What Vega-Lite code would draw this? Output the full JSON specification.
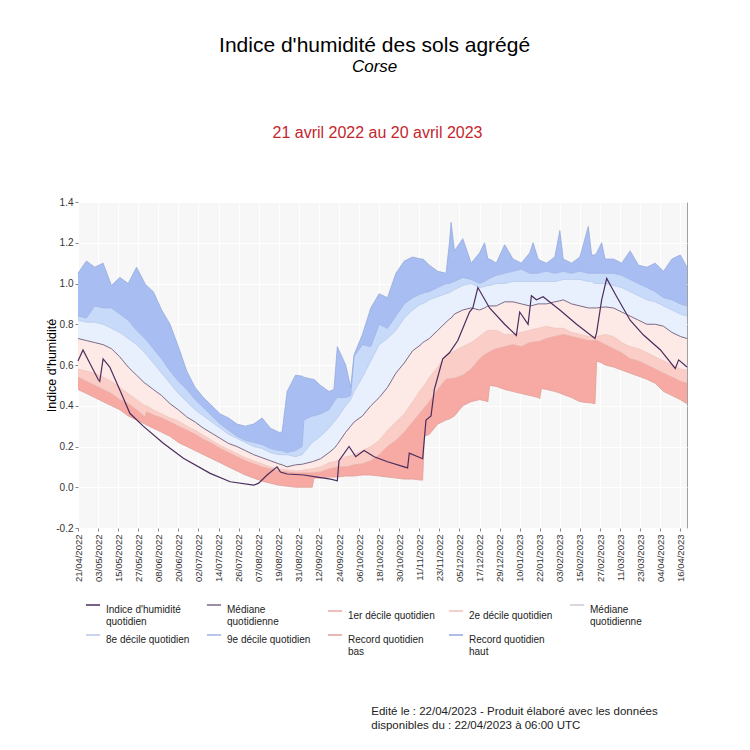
{
  "$schema": "https://vega.github.io/schema/vega-lite/v6.json",
  "background": "white",
  "padding": {"left": 45, "top": 34, "right": 10, "bottom": 10},
  "autosize": {"type": "pad"},
  "config": {
    "font": "Liberation Sans",
    "view": {"stroke": null},
    "title": {"font": "Liberation Sans", "fontWeight": "normal", "color": "#000000"}
  },
  "datasets": {
    "bands": [
      {"date": "2022-04-21", "rb": 0.48, "d1": 0.54, "d2": 0.58, "med": 0.73, "d8": 0.82, "d9": 0.84, "rh": 1.05},
      {"date": "2022-04-26", "rb": 0.46, "d1": 0.52, "d2": 0.57, "med": 0.72, "d8": 0.81, "d9": 0.83, "rh": 1.11},
      {"date": "2022-05-01", "rb": 0.44, "d1": 0.50, "d2": 0.56, "med": 0.71, "d8": 0.81, "d9": 0.89, "rh": 1.08},
      {"date": "2022-05-06", "rb": 0.42, "d1": 0.48, "d2": 0.54, "med": 0.70, "d8": 0.80, "d9": 0.88, "rh": 1.10},
      {"date": "2022-05-11", "rb": 0.40, "d1": 0.46, "d2": 0.52, "med": 0.68, "d8": 0.78, "d9": 0.88, "rh": 0.99},
      {"date": "2022-05-16", "rb": 0.38, "d1": 0.43, "d2": 0.49, "med": 0.64, "d8": 0.76, "d9": 0.85, "rh": 1.03},
      {"date": "2022-05-21", "rb": 0.35, "d1": 0.41, "d2": 0.46, "med": 0.59, "d8": 0.73, "d9": 0.82, "rh": 1.00},
      {"date": "2022-05-26", "rb": 0.33, "d1": 0.38, "d2": 0.43, "med": 0.55, "d8": 0.70, "d9": 0.77, "rh": 1.08},
      {"date": "2022-05-31", "rb": 0.31, "d1": 0.345, "d2": 0.40, "med": 0.51, "d8": 0.66, "d9": 0.73, "rh": 1.00},
      {"date": "2022-06-01", "rb": 0.305, "d1": 0.37, "d2": 0.40, "med": 0.505, "d8": 0.65, "d9": 0.72, "rh": 0.99},
      {"date": "2022-06-05", "rb": 0.29, "d1": 0.355, "d2": 0.38, "med": 0.48, "d8": 0.61, "d9": 0.68, "rh": 0.96},
      {"date": "2022-06-10", "rb": 0.27, "d1": 0.34, "d2": 0.36, "med": 0.45, "d8": 0.56, "d9": 0.63, "rh": 0.87},
      {"date": "2022-06-15", "rb": 0.25, "d1": 0.32, "d2": 0.34, "med": 0.41, "d8": 0.51, "d9": 0.57, "rh": 0.80},
      {"date": "2022-06-20", "rb": 0.22, "d1": 0.30, "d2": 0.325, "med": 0.38, "d8": 0.46, "d9": 0.52, "rh": 0.69},
      {"date": "2022-06-25", "rb": 0.20, "d1": 0.28, "d2": 0.30, "med": 0.345, "d8": 0.42, "d9": 0.48, "rh": 0.57},
      {"date": "2022-06-30", "rb": 0.18, "d1": 0.26, "d2": 0.28, "med": 0.32, "d8": 0.38, "d9": 0.43, "rh": 0.49},
      {"date": "2022-07-05", "rb": 0.16, "d1": 0.235, "d2": 0.255, "med": 0.29, "d8": 0.35, "d9": 0.39, "rh": 0.44},
      {"date": "2022-07-10", "rb": 0.14, "d1": 0.215, "d2": 0.23, "med": 0.265, "d8": 0.32, "d9": 0.35, "rh": 0.40},
      {"date": "2022-07-15", "rb": 0.12, "d1": 0.19, "d2": 0.205, "med": 0.24, "d8": 0.29, "d9": 0.31, "rh": 0.36},
      {"date": "2022-07-20", "rb": 0.10, "d1": 0.17, "d2": 0.185, "med": 0.215, "d8": 0.26, "d9": 0.28, "rh": 0.34},
      {"date": "2022-07-25", "rb": 0.08, "d1": 0.15, "d2": 0.165, "med": 0.20, "d8": 0.24, "d9": 0.25, "rh": 0.31},
      {"date": "2022-07-30", "rb": 0.06, "d1": 0.13, "d2": 0.145, "med": 0.18, "d8": 0.22, "d9": 0.23, "rh": 0.30},
      {"date": "2022-08-04", "rb": 0.045, "d1": 0.115, "d2": 0.13, "med": 0.16, "d8": 0.20, "d9": 0.22, "rh": 0.31},
      {"date": "2022-08-09", "rb": 0.03, "d1": 0.10, "d2": 0.115, "med": 0.145, "d8": 0.19, "d9": 0.21, "rh": 0.34},
      {"date": "2022-08-14", "rb": 0.02, "d1": 0.09, "d2": 0.10, "med": 0.13, "d8": 0.17, "d9": 0.19, "rh": 0.29},
      {"date": "2022-08-19", "rb": 0.01, "d1": 0.08, "d2": 0.09, "med": 0.115, "d8": 0.16, "d9": 0.18, "rh": 0.27},
      {"date": "2022-08-21", "rb": 0.008, "d1": 0.078, "d2": 0.088, "med": 0.11, "d8": 0.16, "d9": 0.18, "rh": 0.27},
      {"date": "2022-08-24", "rb": 0.005, "d1": 0.075, "d2": 0.085, "med": 0.10, "d8": 0.16, "d9": 0.17, "rh": 0.47},
      {"date": "2022-08-29", "rb": 0.0, "d1": 0.07, "d2": 0.08, "med": 0.11, "d8": 0.15, "d9": 0.18, "rh": 0.55},
      {"date": "2022-09-02", "rb": 0.0, "d1": 0.07, "d2": 0.082, "med": 0.113, "d8": 0.16, "d9": 0.20, "rh": 0.545},
      {"date": "2022-09-03", "rb": 0.0, "d1": 0.07, "d2": 0.085, "med": 0.115, "d8": 0.17, "d9": 0.33, "rh": 0.54},
      {"date": "2022-09-08", "rb": 0.0, "d1": 0.07, "d2": 0.09, "med": 0.125, "d8": 0.22, "d9": 0.35, "rh": 0.53},
      {"date": "2022-09-09", "rb": 0.045, "d1": 0.071, "d2": 0.092, "med": 0.128, "d8": 0.225, "d9": 0.35, "rh": 0.53},
      {"date": "2022-09-13", "rb": 0.045, "d1": 0.075, "d2": 0.10, "med": 0.14, "d8": 0.25, "d9": 0.36, "rh": 0.50},
      {"date": "2022-09-18", "rb": 0.05, "d1": 0.09, "d2": 0.12, "med": 0.17, "d8": 0.29, "d9": 0.38, "rh": 0.47},
      {"date": "2022-09-21", "rb": 0.05, "d1": 0.095, "d2": 0.125, "med": 0.19, "d8": 0.32, "d9": 0.42, "rh": 0.48},
      {"date": "2022-09-23", "rb": 0.05, "d1": 0.10, "d2": 0.13, "med": 0.21, "d8": 0.34, "d9": 0.44, "rh": 0.69},
      {"date": "2022-09-28", "rb": 0.055, "d1": 0.10, "d2": 0.15, "med": 0.27, "d8": 0.40, "d9": 0.44, "rh": 0.60},
      {"date": "2022-10-01", "rb": 0.055, "d1": 0.105, "d2": 0.155, "med": 0.30, "d8": 0.43, "d9": 0.45, "rh": 0.49},
      {"date": "2022-10-03", "rb": 0.055, "d1": 0.11, "d2": 0.16, "med": 0.32, "d8": 0.47, "d9": 0.64, "rh": 0.65},
      {"date": "2022-10-08", "rb": 0.06, "d1": 0.115, "d2": 0.18, "med": 0.35, "d8": 0.54, "d9": 0.70, "rh": 0.75},
      {"date": "2022-10-13", "rb": 0.06, "d1": 0.13, "d2": 0.20, "med": 0.40, "d8": 0.62, "d9": 0.69, "rh": 0.88},
      {"date": "2022-10-18", "rb": 0.055, "d1": 0.16, "d2": 0.23, "med": 0.44, "d8": 0.70, "d9": 0.80, "rh": 0.95},
      {"date": "2022-10-23", "rb": 0.05, "d1": 0.20, "d2": 0.28, "med": 0.49, "d8": 0.73, "d9": 0.78, "rh": 0.93},
      {"date": "2022-10-28", "rb": 0.045, "d1": 0.23, "d2": 0.32, "med": 0.56, "d8": 0.77, "d9": 0.84, "rh": 1.05},
      {"date": "2022-11-02", "rb": 0.04, "d1": 0.27, "d2": 0.36, "med": 0.61, "d8": 0.83, "d9": 0.90, "rh": 1.11},
      {"date": "2022-11-07", "rb": 0.04, "d1": 0.32, "d2": 0.42, "med": 0.67, "d8": 0.87, "d9": 0.93, "rh": 1.13},
      {"date": "2022-11-12", "rb": 0.035, "d1": 0.37, "d2": 0.48, "med": 0.70, "d8": 0.90, "d9": 0.95, "rh": 1.12},
      {"date": "2022-11-13", "rb": 0.035, "d1": 0.38, "d2": 0.49, "med": 0.71, "d8": 0.90, "d9": 0.95, "rh": 1.12},
      {"date": "2022-11-14", "rb": 0.25, "d1": 0.39, "d2": 0.50, "med": 0.715, "d8": 0.905, "d9": 0.955, "rh": 1.115},
      {"date": "2022-11-17", "rb": 0.26, "d1": 0.42, "d2": 0.54, "med": 0.73, "d8": 0.92, "d9": 0.96, "rh": 1.09},
      {"date": "2022-11-22", "rb": 0.31, "d1": 0.48, "d2": 0.59, "med": 0.77, "d8": 0.935, "d9": 0.98, "rh": 1.06},
      {"date": "2022-11-27", "rb": 0.33, "d1": 0.53, "d2": 0.65, "med": 0.81, "d8": 0.95, "d9": 1.00, "rh": 1.05},
      {"date": "2022-11-29", "rb": 0.335, "d1": 0.532, "d2": 0.655, "med": 0.825, "d8": 0.955, "d9": 1.00, "rh": 1.20},
      {"date": "2022-11-30", "rb": 0.34, "d1": 0.533, "d2": 0.66, "med": 0.83, "d8": 0.96, "d9": 1.005, "rh": 1.30},
      {"date": "2022-12-02", "rb": 0.35, "d1": 0.535, "d2": 0.67, "med": 0.85, "d8": 0.97, "d9": 1.01, "rh": 1.16},
      {"date": "2022-12-07", "rb": 0.40, "d1": 0.55, "d2": 0.69, "med": 0.87, "d8": 0.99, "d9": 1.03, "rh": 1.22},
      {"date": "2022-12-12", "rb": 0.42, "d1": 0.58, "d2": 0.71, "med": 0.88, "d8": 1.00, "d9": 1.02, "rh": 1.10},
      {"date": "2022-12-17", "rb": 0.43, "d1": 0.63, "d2": 0.74, "med": 0.87, "d8": 0.98, "d9": 1.00, "rh": 1.15},
      {"date": "2022-12-20", "rb": 0.425, "d1": 0.65, "d2": 0.76, "med": 0.88, "d8": 0.985, "d9": 1.01, "rh": 1.20},
      {"date": "2022-12-22", "rb": 0.42, "d1": 0.66, "d2": 0.77, "med": 0.89, "d8": 0.99, "d9": 1.02, "rh": 1.12},
      {"date": "2022-12-23", "rb": 0.50, "d1": 0.665, "d2": 0.77, "med": 0.89, "d8": 0.99, "d9": 1.025, "rh": 1.12},
      {"date": "2022-12-27", "rb": 0.495, "d1": 0.68, "d2": 0.77, "med": 0.89, "d8": 1.00, "d9": 1.04, "rh": 1.10},
      {"date": "2023-01-01", "rb": 0.48, "d1": 0.69, "d2": 0.75, "med": 0.91, "d8": 1.00, "d9": 1.05, "rh": 1.19},
      {"date": "2023-01-06", "rb": 0.47, "d1": 0.70, "d2": 0.75, "med": 0.91, "d8": 1.01, "d9": 1.06, "rh": 1.12},
      {"date": "2023-01-11", "rb": 0.46, "d1": 0.69, "d2": 0.76, "med": 0.90, "d8": 1.01, "d9": 1.07, "rh": 1.10},
      {"date": "2023-01-16", "rb": 0.45, "d1": 0.71, "d2": 0.77, "med": 0.89, "d8": 1.01, "d9": 1.05, "rh": 1.15},
      {"date": "2023-01-18", "rb": 0.447, "d1": 0.712, "d2": 0.775, "med": 0.893, "d8": 1.01, "d9": 1.05, "rh": 1.20},
      {"date": "2023-01-21", "rb": 0.44, "d1": 0.715, "d2": 0.78, "med": 0.90, "d8": 1.01, "d9": 1.05, "rh": 1.12},
      {"date": "2023-01-22", "rb": 0.435, "d1": 0.717, "d2": 0.782, "med": 0.90, "d8": 1.01, "d9": 1.053, "rh": 1.115},
      {"date": "2023-01-23", "rb": 0.485, "d1": 0.72, "d2": 0.784, "med": 0.90, "d8": 1.01, "d9": 1.055, "rh": 1.11},
      {"date": "2023-01-26", "rb": 0.48, "d1": 0.73, "d2": 0.79, "med": 0.90, "d8": 1.01, "d9": 1.06, "rh": 1.10},
      {"date": "2023-01-31", "rb": 0.47, "d1": 0.74, "d2": 0.78, "med": 0.91, "d8": 1.01, "d9": 1.05, "rh": 1.13},
      {"date": "2023-02-03", "rb": 0.462, "d1": 0.745, "d2": 0.78, "med": 0.915, "d8": 1.015, "d9": 1.055, "rh": 1.26},
      {"date": "2023-02-05", "rb": 0.455, "d1": 0.75, "d2": 0.78, "med": 0.92, "d8": 1.02, "d9": 1.06, "rh": 1.12},
      {"date": "2023-02-10", "rb": 0.44, "d1": 0.74, "d2": 0.76, "med": 0.90, "d8": 1.02, "d9": 1.05, "rh": 1.10},
      {"date": "2023-02-15", "rb": 0.42, "d1": 0.73, "d2": 0.75, "med": 0.89, "d8": 1.02, "d9": 1.06, "rh": 1.13},
      {"date": "2023-02-20", "rb": 0.415, "d1": 0.72, "d2": 0.74, "med": 0.88, "d8": 1.01, "d9": 1.05, "rh": 1.28},
      {"date": "2023-02-22", "rb": 0.413, "d1": 0.72, "d2": 0.74, "med": 0.88, "d8": 1.01, "d9": 1.05, "rh": 1.14},
      {"date": "2023-02-24", "rb": 0.41, "d1": 0.72, "d2": 0.74, "med": 0.88, "d8": 1.00, "d9": 1.05, "rh": 1.14},
      {"date": "2023-02-25", "rb": 0.62, "d1": 0.72, "d2": 0.74, "med": 0.88, "d8": 1.00, "d9": 1.05, "rh": 1.15},
      {"date": "2023-02-28", "rb": 0.61, "d1": 0.71, "d2": 0.745, "med": 0.883, "d8": 1.00, "d9": 1.05, "rh": 1.20},
      {"date": "2023-03-02", "rb": 0.60, "d1": 0.70, "d2": 0.75, "med": 0.885, "d8": 1.00, "d9": 1.05, "rh": 1.12},
      {"date": "2023-03-07", "rb": 0.59, "d1": 0.68, "d2": 0.74, "med": 0.88, "d8": 0.99, "d9": 1.05, "rh": 1.12},
      {"date": "2023-03-12", "rb": 0.575, "d1": 0.66, "d2": 0.71, "med": 0.86, "d8": 0.98, "d9": 1.04, "rh": 1.10},
      {"date": "2023-03-17", "rb": 0.56, "d1": 0.63, "d2": 0.69, "med": 0.84, "d8": 0.96, "d9": 1.02, "rh": 1.16},
      {"date": "2023-03-22", "rb": 0.545, "d1": 0.62, "d2": 0.68, "med": 0.82, "d8": 0.94, "d9": 1.00, "rh": 1.09},
      {"date": "2023-03-27", "rb": 0.53, "d1": 0.60, "d2": 0.66, "med": 0.80, "d8": 0.92, "d9": 0.98, "rh": 1.08},
      {"date": "2023-04-01", "rb": 0.51, "d1": 0.58, "d2": 0.64, "med": 0.80, "d8": 0.91, "d9": 0.96, "rh": 1.10},
      {"date": "2023-04-06", "rb": 0.47, "d1": 0.56, "d2": 0.62, "med": 0.79, "d8": 0.89, "d9": 0.93, "rh": 1.06},
      {"date": "2023-04-11", "rb": 0.45, "d1": 0.54, "d2": 0.60, "med": 0.76, "d8": 0.87, "d9": 0.92, "rh": 1.12},
      {"date": "2023-04-16", "rb": 0.43, "d1": 0.52, "d2": 0.58, "med": 0.74, "d8": 0.85, "d9": 0.90, "rh": 1.14},
      {"date": "2023-04-20", "rb": 0.41, "d1": 0.51, "d2": 0.575, "med": 0.73, "d8": 0.84, "d9": 0.89, "rh": 1.08}
    ],
    "indice": [
      {"date": "2022-04-21", "v": 0.62},
      {"date": "2022-04-24", "v": 0.674},
      {"date": "2022-04-28", "v": 0.61},
      {"date": "2022-05-03", "v": 0.53},
      {"date": "2022-05-04", "v": 0.52},
      {"date": "2022-05-06", "v": 0.63},
      {"date": "2022-05-10", "v": 0.59},
      {"date": "2022-05-16", "v": 0.477},
      {"date": "2022-05-22", "v": 0.363},
      {"date": "2022-05-30", "v": 0.30},
      {"date": "2022-06-11", "v": 0.216},
      {"date": "2022-06-23", "v": 0.142},
      {"date": "2022-07-09", "v": 0.068},
      {"date": "2022-07-21", "v": 0.027},
      {"date": "2022-08-04", "v": 0.01},
      {"date": "2022-08-07", "v": 0.02},
      {"date": "2022-08-12", "v": 0.06},
      {"date": "2022-08-18", "v": 0.10},
      {"date": "2022-08-20", "v": 0.075},
      {"date": "2022-08-24", "v": 0.065},
      {"date": "2022-09-03", "v": 0.06},
      {"date": "2022-09-11", "v": 0.05},
      {"date": "2022-09-19", "v": 0.04},
      {"date": "2022-09-23", "v": 0.032},
      {"date": "2022-09-24", "v": 0.13},
      {"date": "2022-09-30", "v": 0.20},
      {"date": "2022-10-04", "v": 0.15},
      {"date": "2022-10-09", "v": 0.18},
      {"date": "2022-10-15", "v": 0.15},
      {"date": "2022-10-23", "v": 0.125},
      {"date": "2022-11-04", "v": 0.095},
      {"date": "2022-11-05", "v": 0.167},
      {"date": "2022-11-13", "v": 0.14},
      {"date": "2022-11-15", "v": 0.33},
      {"date": "2022-11-18", "v": 0.35},
      {"date": "2022-11-20", "v": 0.48},
      {"date": "2022-11-22", "v": 0.54},
      {"date": "2022-11-25", "v": 0.63},
      {"date": "2022-11-29", "v": 0.66},
      {"date": "2022-12-04", "v": 0.72},
      {"date": "2022-12-08", "v": 0.80},
      {"date": "2022-12-11", "v": 0.86},
      {"date": "2022-12-13", "v": 0.88},
      {"date": "2022-12-16", "v": 0.98},
      {"date": "2022-12-23", "v": 0.88},
      {"date": "2023-01-01", "v": 0.80},
      {"date": "2023-01-08", "v": 0.745},
      {"date": "2023-01-10", "v": 0.86},
      {"date": "2023-01-15", "v": 0.80},
      {"date": "2023-01-17", "v": 0.94},
      {"date": "2023-01-20", "v": 0.92},
      {"date": "2023-01-24", "v": 0.935},
      {"date": "2023-02-03", "v": 0.87},
      {"date": "2023-02-13", "v": 0.80},
      {"date": "2023-02-24", "v": 0.73},
      {"date": "2023-02-25", "v": 0.76},
      {"date": "2023-02-28", "v": 0.92},
      {"date": "2023-03-03", "v": 1.025},
      {"date": "2023-03-09", "v": 0.935},
      {"date": "2023-03-17", "v": 0.82},
      {"date": "2023-03-25", "v": 0.747},
      {"date": "2023-04-04", "v": 0.675},
      {"date": "2023-04-13", "v": 0.583},
      {"date": "2023-04-15", "v": 0.625},
      {"date": "2023-04-20", "v": 0.59}
    ]
  },
  "title": {
    "text": "Indice d'humidité des sols agrégé",
    "subtitle": "Corse",
    "fontSize": 21,
    "subtitleFontSize": 17,
    "subtitleFontStyle": "italic",
    "subtitleColor": "#000000",
    "subtitleFont": "Liberation Sans",
    "subtitlePadding": 3,
    "anchor": "middle",
    "offset": 50,
    "dx": 7
  },
  "vconcat": [
    {
      "title": {
        "text": ["Edité le : 22/04/2023 - Produit élaboré avec les données", "disponibles du : 22/04/2023 à 06:00 UTC"],
        "orient": "bottom",
        "anchor": "start",
        "fontSize": 11.5,
        "lineHeight": 14,
        "color": "#222222",
        "offset": 124,
        "dx": 326
      },
      "vconcat": [
        {
          "width": 609,
          "height": 326,
          "title": {
            "text": "21 avril 2022 au 20 avril 2023",
            "color": "#c4262e",
            "fontSize": 16,
            "offset": 56,
            "frame": "group",
            "anchor": "middle",
            "dx": -5
          },
          "view": {"fill": "#f7f7f7", "stroke": "#a0a0a0"},
          "encoding": {
            "x": {
              "field": "date",
              "type": "temporal",
              "scale": {
                "type": "utc",
                "domain": [
                  {"year": 2022, "month": 4, "date": 21, "utc": true},
                  {"year": 2023, "month": 4, "date": 20, "utc": true}
                ]
              },
              "axis": {
                "title": null,
                "format": "%d/%m/%Y",
                "values": [
                  {"year": 2022, "month": 4, "date": 21, "utc": true},
                  {"year": 2022, "month": 5, "date": 3, "utc": true},
                  {"year": 2022, "month": 5, "date": 15, "utc": true},
                  {"year": 2022, "month": 5, "date": 27, "utc": true},
                  {"year": 2022, "month": 6, "date": 8, "utc": true},
                  {"year": 2022, "month": 6, "date": 20, "utc": true},
                  {"year": 2022, "month": 7, "date": 2, "utc": true},
                  {"year": 2022, "month": 7, "date": 14, "utc": true},
                  {"year": 2022, "month": 7, "date": 26, "utc": true},
                  {"year": 2022, "month": 8, "date": 7, "utc": true},
                  {"year": 2022, "month": 8, "date": 19, "utc": true},
                  {"year": 2022, "month": 8, "date": 31, "utc": true},
                  {"year": 2022, "month": 9, "date": 12, "utc": true},
                  {"year": 2022, "month": 9, "date": 24, "utc": true},
                  {"year": 2022, "month": 10, "date": 6, "utc": true},
                  {"year": 2022, "month": 10, "date": 18, "utc": true},
                  {"year": 2022, "month": 10, "date": 30, "utc": true},
                  {"year": 2022, "month": 11, "date": 11, "utc": true},
                  {"year": 2022, "month": 11, "date": 23, "utc": true},
                  {"year": 2022, "month": 12, "date": 5, "utc": true},
                  {"year": 2022, "month": 12, "date": 17, "utc": true},
                  {"year": 2022, "month": 12, "date": 29, "utc": true},
                  {"year": 2023, "month": 1, "date": 10, "utc": true},
                  {"year": 2023, "month": 1, "date": 22, "utc": true},
                  {"year": 2023, "month": 2, "date": 3, "utc": true},
                  {"year": 2023, "month": 2, "date": 15, "utc": true},
                  {"year": 2023, "month": 2, "date": 27, "utc": true},
                  {"year": 2023, "month": 3, "date": 11, "utc": true},
                  {"year": 2023, "month": 3, "date": 23, "utc": true},
                  {"year": 2023, "month": 4, "date": 4, "utc": true},
                  {"year": 2023, "month": 4, "date": 16, "utc": true}
                ],
                "labelAngle": 270,
                "labelFontSize": 9.5,
                "labelColor": "#333333",
                "labelPadding": 3,
                "labelOverlap": false,
                "labelFlush": false,
                "labelBound": false,
                "tickSize": 3,
                "tickColor": "#888888",
                "domain": false,
                "grid": true,
                "gridColor": "#ffffff",
                "gridWidth": 1
              }
            }
          },
          "layer": [
            {
              "data": {"name": "bands"},
              "mark": {"type": "area", "color": "#f7aaa3", "opacity": 1},
              "encoding": {
                "y": {
                  "field": "rb",
                  "type": "quantitative",
                  "title": "Indice d'humidité",
                  "scale": {"domain": [-0.2, 1.4], "nice": false, "zero": false},
                  "axis": {
                    "values": [-0.2, 0, 0.2, 0.4, 0.6, 0.8, 1, 1.2, 1.4],
                    "format": ".1f",
                    "labelExpr": "replace(datum.label, '−', '-')",
                    "labelFontSize": 10,
                    "labelColor": "#333333",
                    "labelPadding": 2,
                    "tickSize": 3,
                    "tickColor": "#888888",
                    "domain": false,
                    "grid": true,
                    "gridColor": "#ffffff",
                    "titleFontSize": 12.5,
                    "titleFontWeight": "normal",
                    "titleColor": "#000000",
                    "titlePadding": -3
                  }
                },
                "y2": {"field": "d1"}
              }
            },
            {
              "data": {"name": "bands"},
              "mark": {"type": "area", "color": "#facdc6", "opacity": 1},
              "encoding": {"y": {"field": "d1", "type": "quantitative", "title": "Indice d'humidité"}, "y2": {"field": "d2"}}
            },
            {
              "data": {"name": "bands"},
              "mark": {"type": "area", "color": "#fdeae7", "opacity": 1},
              "encoding": {"y": {"field": "d2", "type": "quantitative", "title": "Indice d'humidité"}, "y2": {"field": "med"}}
            },
            {
              "data": {"name": "bands"},
              "mark": {"type": "area", "color": "#e8f0fd", "opacity": 1},
              "encoding": {"y": {"field": "med", "type": "quantitative", "title": "Indice d'humidité"}, "y2": {"field": "d8"}}
            },
            {
              "data": {"name": "bands"},
              "mark": {"type": "area", "color": "#c8dafa", "opacity": 1},
              "encoding": {"y": {"field": "d8", "type": "quantitative", "title": "Indice d'humidité"}, "y2": {"field": "d9"}}
            },
            {
              "data": {"name": "bands"},
              "mark": {"type": "area", "color": "#a8bef2", "opacity": 1},
              "encoding": {"y": {"field": "d9", "type": "quantitative", "title": "Indice d'humidité"}, "y2": {"field": "rh"}}
            },
            {
              "data": {"name": "bands"},
              "mark": {"type": "line", "strokeWidth": 0.8},
              "encoding": {
                "y": {"field": "rb", "type": "quantitative", "title": "Indice d'humidité"},
                "color": {
                  "datum": "h",
                  "type": "nominal",
                  "scale": {
                    "domain": ["a", "b", "c", "d", "e", "f", "g", "h", "i"],
                    "range": ["#4b2c5e", "#7b6a86", "#e7a8a3", "#efc3bd", "#cfc8d4", "#b9c9ea", "#9fb3e3", "#e0a09b", "#95a9dc"]
                  },
                  "legend": {
                    "title": null,
                    "orient": "none",
                    "direction": "horizontal",
                    "legendX": 7,
                    "legendY": 395,
                    "columns": 5,
                    "gridAlign": "all",
                    "columnPadding": 10,
                    "rowPadding": -2,
                    "symbolType": "stroke",
                    "symbolSize": 200,
                    "symbolStrokeWidth": 1.5,
                    "labelFontSize": 10,
                    "labelFont": "Liberation Sans",
                    "labelColor": "#222222",
                    "labelLimit": 200,
                    "labelOffset": 5,
                    "labelBaseline": "top",
                    "labelExpr": "datum.value === \"a\" ? [\"Indice d'humidité\", \"quotidien\"] : (datum.value === \"b\" || datum.value === \"e\") ? [\"Médiane\", \"quotidienne\"] : datum.value === \"c\" ? \"1er décile quotidien\" : datum.value === \"d\" ? \"2e décile quotidien\" : datum.value === \"f\" ? \"8e décile quotidien\" : datum.value === \"g\" ? \"9e décile quotidien\" : datum.value === \"h\" ? [\"Record quotidien\", \"bas\"] : [\"Record quotidien\", \"haut\"]"
                  }
                }
              }
            },
            {
              "data": {"name": "bands"},
              "mark": {"type": "line", "strokeWidth": 0.8},
              "encoding": {"y": {"field": "d1", "type": "quantitative", "title": "Indice d'humidité"}, "color": {"datum": "c", "type": "nominal"}}
            },
            {
              "data": {"name": "bands"},
              "mark": {"type": "line", "strokeWidth": 0.8},
              "encoding": {"y": {"field": "d2", "type": "quantitative", "title": "Indice d'humidité"}, "color": {"datum": "d", "type": "nominal"}}
            },
            {
              "data": {"name": "bands"},
              "mark": {"type": "line", "strokeWidth": 0.8},
              "encoding": {"y": {"field": "d8", "type": "quantitative", "title": "Indice d'humidité"}, "color": {"datum": "f", "type": "nominal"}}
            },
            {
              "data": {"name": "bands"},
              "mark": {"type": "line", "strokeWidth": 0.8},
              "encoding": {"y": {"field": "d9", "type": "quantitative", "title": "Indice d'humidité"}, "color": {"datum": "g", "type": "nominal"}}
            },
            {
              "data": {"name": "bands"},
              "mark": {"type": "line", "strokeWidth": 0.8},
              "encoding": {"y": {"field": "rh", "type": "quantitative", "title": "Indice d'humidité"}, "color": {"datum": "i", "type": "nominal"}}
            },
            {
              "data": {"name": "bands"},
              "mark": {"type": "line", "strokeWidth": 1},
              "encoding": {"y": {"field": "med", "type": "quantitative", "title": "Indice d'humidité"}, "color": {"datum": "b", "type": "nominal"}}
            },
            {
              "data": {"name": "indice"},
              "mark": {"type": "line", "strokeWidth": 1.2},
              "encoding": {"y": {"field": "v", "type": "quantitative", "title": "Indice d'humidité"}, "color": {"datum": "a", "type": "nominal"}}
            }
          ]
        }
      ]
    }
  ]
}
